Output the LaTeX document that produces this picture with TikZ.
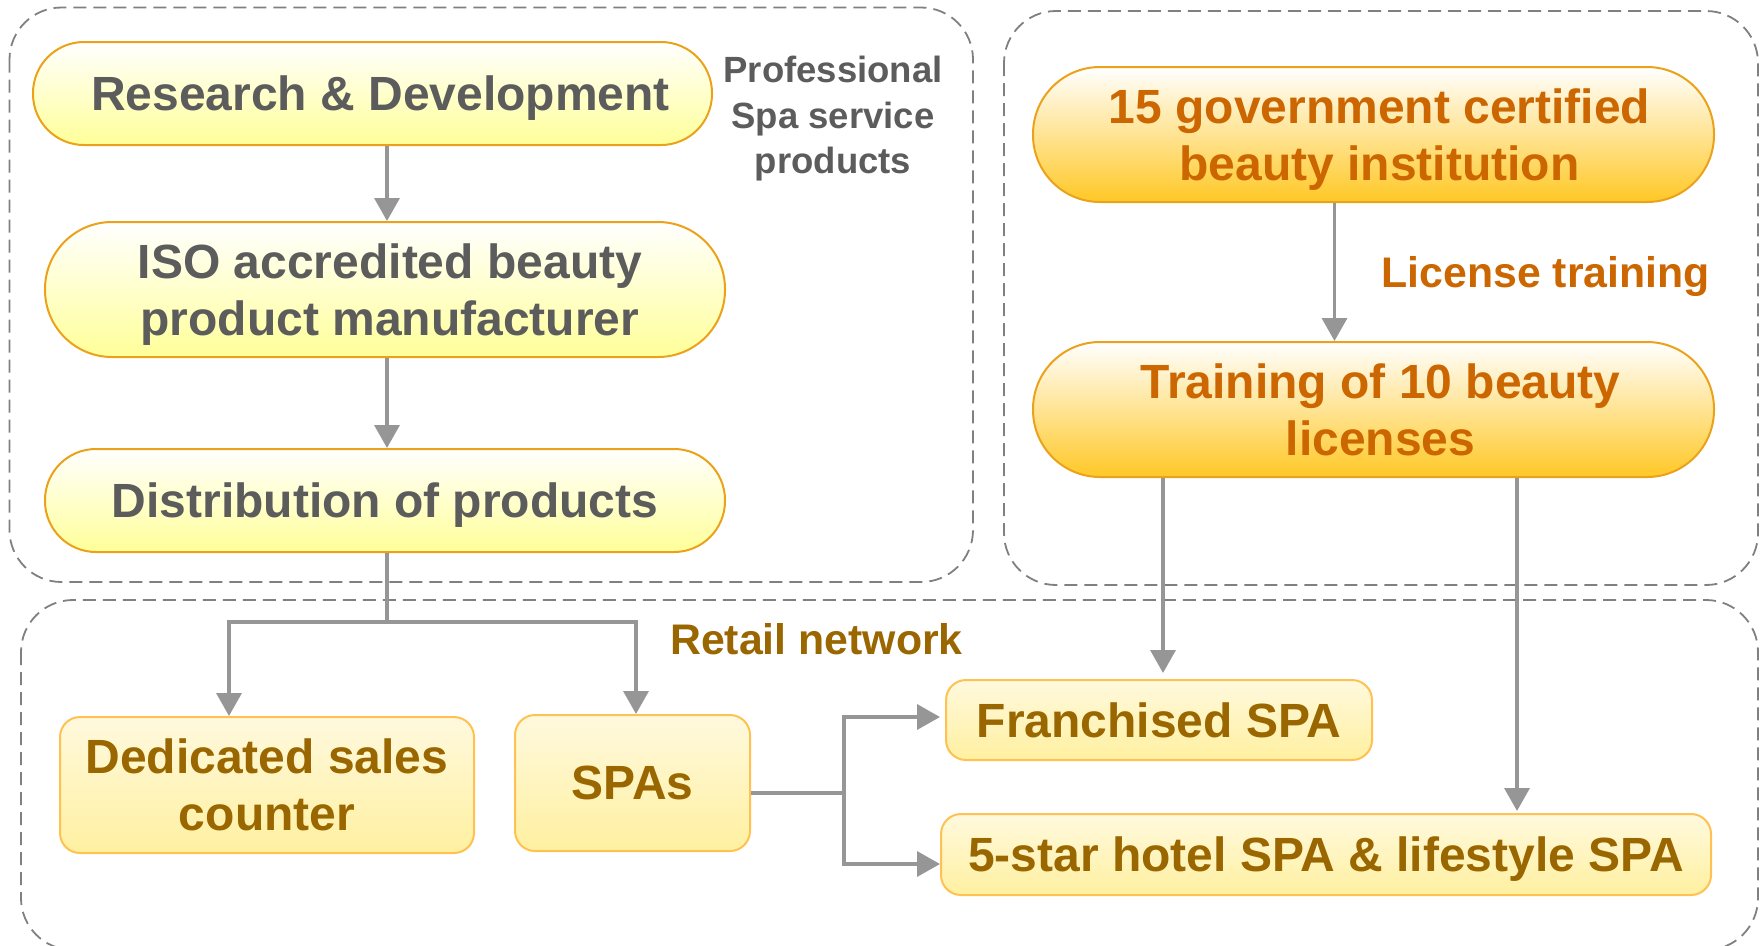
\documentclass[tikz,border=0pt]{standalone}
\usepackage{fontspec}
\setmainfont{Liberation Sans}
\usetikzlibrary{arrows.meta,calc}

\definecolor{edgeGold}{HTML}{EBA21A}
\definecolor{pillBot}{HTML}{FFFF99}
\definecolor{govBot}{HTML}{FFC826}
\definecolor{retailTop}{HTML}{FFF9DE}
\definecolor{retailBot}{HTML}{FFF0A0}
\definecolor{retailEdge}{HTML}{FFC252}
\definecolor{txtGray}{HTML}{5C5C5C}
\definecolor{txtOrange}{HTML}{CC6600}
\definecolor{txtBrown}{HTML}{996600}
\definecolor{connGray}{HTML}{969696}
\definecolor{frameGray}{HTML}{808080}

\newcommand{\bxfont}{\fontsize{48}{57}\selectfont\bfseries}
\newcommand{\lblfont}{\fontsize{42.8}{50}\selectfont\bfseries}
\newcommand{\smfont}{\fontsize{36.5}{45.5}\selectfont\bfseries}
% left padding that nudges a centred line to the right
\newcommand{\nudge}[1]{\hspace*{#1pt}}

\begin{document}
\begin{tikzpicture}[x=1pt,y=-1pt,
  frame/.style={draw=frameGray, line width=1.8pt, dash pattern=on 13pt off 7pt, rounded corners=52pt},
  pill/.style={rectangle, draw=edgeGold, line width=2pt, top color=white, bottom color=pillBot,
    text=txtGray, align=center, inner sep=0pt, text depth=0pt, font=\bxfont},
  govpill/.style={rectangle, draw=edgeGold, line width=2pt, top color=white, bottom color=govBot,
    text=txtOrange, align=center, inner sep=0pt, text depth=0pt, font=\bxfont},
  retail/.style={rectangle, draw=retailEdge, line width=2pt, top color=retailTop, bottom color=retailBot,
    text=txtBrown, align=center, inner sep=0pt, rounded corners=20pt, font=\bxfont},
  conn/.style={draw=connGray, line width=3.5pt},
  arr/.style={conn, -{Triangle[length=23pt,width=25pt]}}]

\useasboundingbox (0,0) rectangle (1760,945);

% dashed group frames (the retail frame runs past the lower page edge)
\draw[frame] (9.5,7.5) rectangle (973,582);
\draw[frame] (1004,11) rectangle (1758,585);
\draw[frame] (21,600) rectangle (1758,950);

% product chain
\node[pill, minimum width=679pt, minimum height=103pt, rounded corners=51pt] (rd) at (372.5,93.5) {\nudge{16}Research \& Development};
\node[pill, minimum width=680pt, minimum height=135pt, rounded corners=67pt] (iso) at (385,289.5) {\nudge{10}ISO accredited beauty\\\nudge{10}product manufacturer};
\node[pill, minimum width=680pt, minimum height=103pt, rounded corners=51pt] (dist) at (385,500.5) {Distribution of products};
\node[text=txtGray, align=center, font=\smfont] (prof) at (833,119) {Professional\\Spa service\\products};

% training chain
\node[govpill, minimum width=681pt, minimum height=135pt, rounded corners=67pt] (gov) at (1373.5,134.5) {\nudge{12}15 government certified\\\nudge{12}beauty institution};
\node[govpill, minimum width=681pt, minimum height=135pt, rounded corners=67pt] (train) at (1373.5,409.5) {\nudge{14}Training of 10 beauty\\\nudge{14}licenses};
\node[text=txtOrange, font=\lblfont, anchor=base east, inner sep=0pt] (lic) at (1710,287) {License training};

% retail outlets
\node[text=txtBrown, font=\lblfont, anchor=base west, inner sep=0pt] (net) at (670,654) {Retail network};
\node[retail, minimum width=414pt, minimum height=136pt] (ded) at (267,785) {Dedicated sales\\counter};
\node[retail, minimum width=235pt, minimum height=136pt] (spas) at (632.5,783) {SPAs};
\node[retail, minimum width=426pt, minimum height=80pt] (fran) at (1159,720) {Franchised SPA};
\node[retail, minimum width=770pt, minimum height=81pt, text depth=0pt] (star) at (1326,854.5) {5-star hotel SPA \& lifestyle SPA};

% connector guide coordinates
\coordinate (cx) at (387,0);
\coordinate (jc) at (387,622);
\coordinate (jl) at (229,622);
\coordinate (jr) at (636,622);
\coordinate (gx) at (1334.5,0);
\coordinate (fx) at (1163,0);
\coordinate (sx) at (1517,0);
\coordinate (bt) at (844,717);
\coordinate (bb) at (844,864);

% connectors
\draw[arr] (rd.south -| cx) -- (iso.north -| cx);
\draw[arr] (iso.south -| cx) -- (dist.north -| cx);
\draw[conn] (dist.south -| cx) -- (jc);
\draw[arr] (jc) -| (ded.north -| jl);
\draw[arr] (jc) -| (spas.north -| jr);

\draw[arr] (gov.south -| gx) -- (train.north -| gx);
\draw[arr, shorten >=6pt] (train.south -| fx) -- (fran.north -| fx);
\draw[arr, shorten >=2pt] (train.south -| sx) -- (star.north -| sx);

\draw[conn] ($(spas.east)+(0,10)$) -- ($(spas.east)+(94,10)$);
\draw[conn] ($(bt)+(0,-1.75)$) -- ($(bb)+(0,1.75)$);
\draw[arr, shorten >=5pt] (bt) -- (fran.west |- bt);
\draw[arr] (bb) -- (star.west |- bb);

\end{tikzpicture}
\end{document}
